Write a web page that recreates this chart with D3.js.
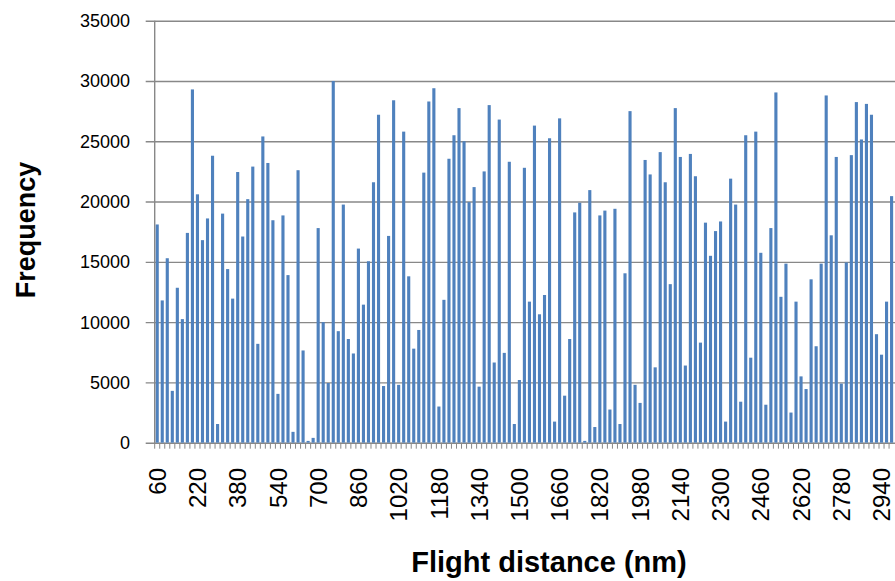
<!DOCTYPE html>
<html>
<head>
<meta charset="utf-8">
<script src="https://cdnjs.cloudflare.com/ajax/libs/d3/7.8.5/d3.min.js"></script>
<style>
body { margin: 0; background: #fff; }
svg { display: block; }
</style>
</head>
<body>
<script>
// flight distance categories (nm), one bar each
const distances = [60,80,100,120,140,160,180,200,220,240,260,280,300,320,340,360,380,400,420,440,
  460,480,500,520,540,560,580,600,620,640,660,680,700,720,740,760,780,800,820,840,
  860,880,900,920,940,960,980,1000,1020,1040,1060,1080,1100,1120,1140,1160,1180,1200,1220,1240,
  1260,1280,1300,1320,1340,1360,1380,1400,1420,1440,1460,1480,1500,1520,1540,1560,1580,1600,1620,1640,
  1660,1680,1700,1720,1740,1760,1780,1800,1820,1840,1860,1880,1900,1920,1940,1960,1980,2000,2020,2040,
  2060,2080,2100,2120,2140,2160,2180,2200,2220,2240,2260,2280,2300,2320,2340,2360,2380,2400,2420,2440,
  2460,2480,2500,2520,2540,2560,2580,2600,2620,2640,2660,2680,2700,2720,2740,2760,2780,2800,2820,2840,
  2860,2880,2900,2920,2940,2960,2980];

// frequency
const frequency = [18100,11800,15300,4300,12850,10250,17400,29300,20600,16800,18600,23800,1550,19000,14400,11950,22450,17100,20200,22900,
  8200,25400,23200,18450,4050,18850,13900,900,22600,7650,150,400,17800,10000,4950,30000,9250,19750,8600,7400,
  16100,11450,15050,21600,27200,4700,17150,28400,4800,25800,13800,7800,9350,22400,28300,29400,3000,11850,23550,25500,
  27750,25000,19950,21200,4650,22500,28000,6650,26800,7450,23300,1550,5200,22800,11700,26300,10650,12250,25250,1750,
  26900,3900,8600,19100,19900,150,20950,1300,18850,19250,2750,19400,1550,14050,27500,4800,3300,23450,22250,6250,
  24100,21600,13150,27750,23700,6400,23950,22100,8300,18250,15500,17550,18350,1750,21900,19750,3400,25500,7050,25800,
  15750,3150,17800,29050,12100,14850,2500,11700,5500,4450,13550,8000,14850,28800,17200,23700,4900,14950,23850,28250,
  25150,28100,27200,9000,7300,11700,20450];

// every 8th category gets a label
const xLabels = [60,220,380,540,700,860,1020,1180,1340,1500,1660,1820,1980,2140,2300,2460,2620,2780,2940];
const yTicks = [0,5000,10000,15000,20000,25000,30000,35000];

const width = 895;
const height = 581;
const plotLeft = 154.7, plotRight = 894.1, plotTop = 20.7, plotBottom = 442.7;
const gridColor = "#888888";
const barColor = "#4f81bd";
const font = "'Liberation Sans', Arial, sans-serif";

const svg = d3.select("body").append("svg")
    .attr("width", width)
    .attr("height", height);

const x = d3.scaleBand()
    .domain(distances)
    .range([plotLeft, plotRight])
    .paddingInner(0.38)
    .paddingOuter(0.19);

const y = d3.scaleLinear()
    .domain([0, 35000])
    .range([plotBottom, plotTop]);

// horizontal gridlines + y ticks
svg.append("g")
    .attr("transform", `translate(${plotLeft},0)`)
    .call(d3.axisLeft(y).tickValues(yTicks).tickSizeInner(-(width - plotLeft)).tickFormat(""))
    .call(g => g.select(".domain").remove())
    .call(g => g.selectAll(".tick line")
        .attr("stroke", gridColor)
        .attr("stroke-width", 1.4)
        .attr("x1", -9));

// bars
svg.append("g")
    .selectAll("rect")
    .data(frequency)
    .enter()
    .append("rect")
    .attr("x", (d, i) => x(distances[i]))
    .attr("width", x.bandwidth())
    .attr("y", d => y(d))
    .attr("height", d => plotBottom - y(d))
    .attr("fill", barColor);

// y axis line
svg.append("line")
    .attr("x1", plotLeft).attr("x2", plotLeft)
    .attr("y1", plotTop).attr("y2", plotBottom + 0.7)
    .attr("stroke", gridColor)
    .attr("stroke-width", 1.4);

// category tick marks under the axis
const gap = (x.step() - x.bandwidth()) / 2;
svg.append("g")
    .selectAll("line")
    .data(distances)
    .enter()
    .append("line")
    .attr("x1", d => x(d) - gap)
    .attr("x2", d => x(d) - gap)
    .attr("y1", plotBottom)
    .attr("y2", plotBottom + 6)
    .attr("stroke", gridColor)
    .attr("stroke-width", 1);

// y tick labels
svg.append("g")
    .selectAll("text")
    .data(yTicks)
    .enter()
    .append("text")
    .attr("x", 130)
    .attr("y", d => y(d))
    .attr("dy", "0.36em")
    .attr("text-anchor", "end")
    .style("font-family", font)
    .style("font-size", "18px")
    .text(d => d);

// x tick labels, rotated
svg.append("g")
    .selectAll("text")
    .data(xLabels)
    .enter()
    .append("text")
    .attr("transform", d => `translate(${x(d) + x.bandwidth() / 2},468) rotate(-90)`)
    .attr("dy", "0.36em")
    .attr("text-anchor", "end")
    .style("font-family", font)
    .style("font-size", "24px")
    .text(d => d);

// axis titles
svg.append("text")
    .attr("transform", "translate(25,230) rotate(-90)")
    .attr("text-anchor", "middle")
    .attr("dy", "0.36em")
    .style("font-family", font)
    .style("font-weight", "bold")
    .style("font-size", "27px")
    .text("Frequency");

svg.append("text")
    .attr("x", 549)
    .attr("y", 572)
    .attr("text-anchor", "middle")
    .style("font-family", font)
    .style("font-weight", "bold")
    .style("font-size", "29px")
    .text("Flight distance (nm)");
</script>
</body>
</html>
